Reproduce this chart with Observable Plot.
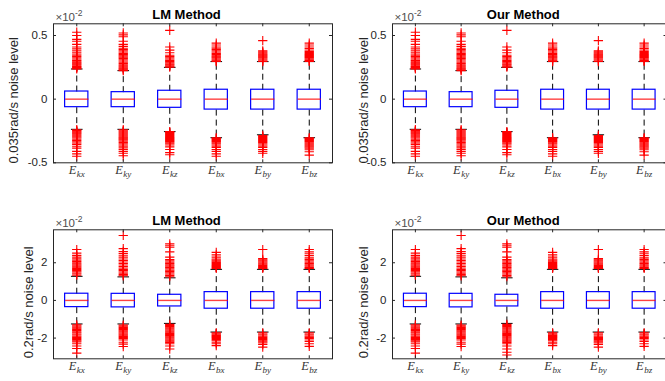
<!DOCTYPE html>
<html>
<head>
<meta charset="utf-8">
<script src="https://cdn.jsdelivr.net/npm/d3@7"></script>
<script src="https://cdn.jsdelivr.net/npm/@observablehq/plot@0.6"></script>
<style>
  html, body { margin: 0; padding: 0; background: #fff; }
  #chart { position: relative; width: 665px; height: 381px; overflow: hidden; background: #fff; }
  #chart svg { position: absolute; }
</style>
</head>
<body>
<div id="chart"></div>
<script>
// Error components (x tick labels)
const categories = ["Ekx", "Eky", "Ekz", "Ebx", "Eby", "Ebz"];
const methods = ["LM Method", "Our Method"];

// ---- 0.035 rad/s noise level, values ×10^-2 ----
const lowTicks = [-0.5, 0, 0.5];
const lowQ1 = [-0.063, -0.063, -0.068, -0.082, -0.082, -0.082];
const lowMed = [0, 0, 0, 0, 0, 0];
const lowQ3 = [0.060, 0.055, 0.066, 0.074, 0.074, 0.074];
const lowWhiskLo = [-0.237, -0.237, -0.255, -0.303, -0.280, -0.303];
const lowWhiskHi = [0.237, 0.224, 0.250, 0.295, 0.295, 0.295];

const lowUpper = [
  [0.526, 0.50, 0.47, 0.455, 0.43, 0.41, 0.395, 0.38, 0.368, 0.355, 0.345, 0.335, 0.325, 0.315, 0.305, 0.298, 0.29, 0.283, 0.276, 0.27, 0.263, 0.257, 0.25, 0.244, 0.238],
  [0.52, 0.505, 0.49, 0.455, 0.43, 0.415, 0.40, 0.39, 0.38, 0.37, 0.36, 0.35, 0.34, 0.33, 0.32, 0.31, 0.30, 0.29, 0.28, 0.27, 0.262, 0.254, 0.246, 0.238, 0.23, 0.224],
  [0.54, 0.41, 0.385, 0.365, 0.345, 0.335, 0.325, 0.315, 0.305, 0.295, 0.285, 0.275, 0.267, 0.259, 0.252],
  [0.44, 0.425, 0.41, 0.40, 0.39, 0.38, 0.37, 0.36, 0.35, 0.34, 0.332, 0.324, 0.316, 0.308, 0.301, 0.296],
  [0.46, 0.38, 0.372, 0.364, 0.356, 0.348, 0.34, 0.332, 0.324, 0.316, 0.308, 0.30, 0.296],
  [0.44, 0.425, 0.41, 0.398, 0.386, 0.375, 0.366, 0.358, 0.35, 0.342, 0.334, 0.326, 0.318, 0.31, 0.303, 0.297]
];
const lowLower = [
  [-0.24, -0.246, -0.252, -0.258, -0.265, -0.272, -0.28, -0.288, -0.296, -0.305, -0.315, -0.325, -0.335, -0.345, -0.355, -0.37, -0.385, -0.41, -0.43, -0.448],
  [-0.24, -0.248, -0.256, -0.264, -0.272, -0.28, -0.288, -0.296, -0.304, -0.312, -0.32, -0.33, -0.34, -0.35, -0.36, -0.37, -0.383, -0.395, -0.41, -0.425, -0.445],
  [-0.255, -0.262, -0.27, -0.278, -0.286, -0.294, -0.302, -0.31, -0.318, -0.326, -0.334, -0.342, -0.35, -0.36, -0.375, -0.395, -0.42, -0.437],
  [-0.303, -0.31, -0.318, -0.326, -0.334, -0.342, -0.35, -0.36, -0.37, -0.38, -0.395, -0.41, -0.43, -0.448],
  [-0.285, -0.293, -0.301, -0.309, -0.317, -0.325, -0.333, -0.341, -0.35, -0.36, -0.37, -0.38, -0.395, -0.41, -0.425],
  [-0.303, -0.31, -0.318, -0.326, -0.334, -0.342, -0.35, -0.358, -0.366, -0.375, -0.385, -0.398, -0.413, -0.44]
];

// ---- 0.2 rad/s noise level, values ×10^-2 ----
const highTicks = [-2, 0, 2];
const highQ1 = [-0.356, -0.37, -0.32, -0.44, -0.44, -0.44];
const highMed = [0, 0, 0, 0, 0, 0];
const highQ3 = [0.356, 0.35, 0.30, 0.44, 0.44, 0.44];
const highWhiskLo = [-1.25, -1.25, -1.22, -1.68, -1.68, -1.68];
const highWhiskHi = [1.28, 1.25, 1.20, 1.65, 1.65, 1.65];

const highUpper = [
  [2.7, 2.51, 2.39, 2.3, 2.21, 2.14, 2.07, 2.0, 1.94, 1.88, 1.82, 1.76, 1.7, 1.64, 1.58, 1.52, 1.46, 1.4, 1.34],
  [3.45, 2.75, 2.6, 2.5, 2.4, 2.3, 2.2, 2.12, 2.04, 1.96, 1.88, 1.8, 1.72, 1.65, 1.58, 1.51, 1.44, 1.37, 1.31],
  [3.0, 2.9, 2.82, 2.58, 2.3, 2.17, 2.1, 2.03, 1.96, 1.89, 1.82, 1.75, 1.68, 1.61, 1.54, 1.47, 1.4, 1.33, 1.26],
  [2.55, 2.42, 2.3, 2.2, 2.14, 2.08, 2.02, 1.96, 1.9, 1.85, 1.8, 1.75, 1.7],
  [2.7, 2.22, 2.16, 2.1, 2.04, 1.98, 1.92, 1.86, 1.8, 1.75, 1.7],
  [2.7, 2.58, 2.48, 2.38, 2.26, 2.18, 2.1, 2.03, 1.96, 1.89, 1.82, 1.75, 1.7]
];
const highLowerLM = [
  [-1.3, -1.36, -1.42, -1.48, -1.54, -1.6, -1.66, -1.72, -1.78, -1.84, -1.9, -1.96, -2.02, -2.08, -2.14, -2.2, -2.3, -2.42, -2.55, -2.8],
  [-1.31, -1.37, -1.43, -1.49, -1.55, -1.61, -1.67, -1.73, -1.79, -1.85, -1.91, -1.97, -2.03, -2.1, -2.22, -2.32, -2.45],
  [-1.27, -1.33, -1.39, -1.45, -1.51, -1.57, -1.63, -1.69, -1.75, -1.81, -1.87, -1.93, -1.99, -2.05, -2.11, -2.17, -2.23, -2.3, -2.42, -2.58],
  [-1.72, -1.77, -1.82, -1.87, -1.92, -1.97, -2.02, -2.08, -2.14, -2.22, -2.3, -2.4],
  [-1.72, -1.78, -1.84, -1.9, -1.96, -2.02, -2.08, -2.14, -2.2, -2.26, -2.34, -2.48],
  [-1.72, -1.78, -1.84, -1.9, -1.96, -2.02, -2.1, -2.18, -2.3, -2.44]
];
const highLowerOur = [
  [-1.3, -1.36, -1.42, -1.48, -1.54, -1.6, -1.66, -1.72, -1.78, -1.84, -1.9, -1.96, -2.02, -2.08, -2.14, -2.2, -2.3, -2.42, -2.55, -2.8],
  [-1.31, -1.37, -1.43, -1.49, -1.55, -1.61, -1.67, -1.73, -1.79, -1.85, -1.91, -1.97, -2.03, -2.1, -2.22, -2.32, -2.45],
  [-1.27, -1.33, -1.39, -1.45, -1.51, -1.57, -1.63, -1.69, -1.75, -1.81, -1.87, -1.93, -1.99, -2.05, -2.11, -2.17, -2.23, -2.3, -2.42, -2.58, -2.75, -2.9],
  [-1.72, -1.77, -1.82, -1.87, -1.92, -1.97, -2.02, -2.08, -2.14, -2.22, -2.3, -2.4],
  [-1.72, -1.78, -1.84, -1.9, -1.96, -2.02, -2.08, -2.14, -2.2, -2.26, -2.34, -2.48],
  [-1.72, -1.78, -1.84, -1.9, -1.96, -2.02, -2.1, -2.18, -2.3, -2.44]
];

const SANS = "'Liberation Sans', Arial, Helvetica, sans-serif";
const SERIF = "'Liberation Serif', 'DejaVu Serif', serif";
const AXIS = "#262626";
const NS = "http://www.w3.org/2000/svg";

function boxPanel(cfg) {
  const {title, ylabel, yDomain, yTicks, q1, med, q3, lo, hi, upper, lower,
         left, top, width, height, mL, mR, mT, mB, ylabelDx, ylabelDy} = cfg;
  const fw = width - mL - mR;
  const fh = height - mT - mB;
  const xs = categories.map((c, i) => i + 1);
  const boxes = categories.map((c, i) => ({c, x: i + 1, q1: q1[i], med: med[i], q3: q3[i], lo: lo[i], hi: hi[i]}));
  const outliers = categories.flatMap((c, i) => upper[i].concat(lower[i]).map(v => ({x: i + 1, v})));

  const svg = Plot.plot({
    width, height,
    marginLeft: mL, marginRight: mR, marginTop: mT, marginBottom: mB,
    style: {background: "transparent", fontFamily: SANS, overflow: "visible"},
    x: {type: "linear", domain: [0.5, 6.5], axis: null},
    y: {type: "linear", domain: yDomain, axis: null},
    marks: [
      // whiskers
      Plot.link(boxes, {x1: "x", x2: "x", y1: "q3", y2: "hi", stroke: "#000", strokeWidth: 1, strokeDasharray: "6,4"}),
      Plot.link(boxes, {x1: "x", x2: "x", y1: "q1", y2: "lo", stroke: "#000", strokeWidth: 1, strokeDasharray: "6,4"}),
      Plot.link(boxes, {x1: d => d.x - 0.125, x2: d => d.x + 0.125, y1: "hi", y2: "hi", stroke: "#000"}),
      Plot.link(boxes, {x1: d => d.x - 0.125, x2: d => d.x + 0.125, y1: "lo", y2: "lo", stroke: "#000"}),
      // boxes and medians
      Plot.rect(boxes, {x1: d => d.x - 0.25, x2: d => d.x + 0.25, y1: "q1", y2: "q3", fill: "none", stroke: "#0000ff", strokeWidth: 1.2}),
      Plot.link(boxes, {x1: d => d.x - 0.25, x2: d => d.x + 0.25, y1: "med", y2: "med", stroke: "#ff0000", strokeWidth: 1.4, strokeOpacity: 0.75}),
      // outliers
      Plot.dot(outliers, {x: "x", y: "v", symbol: "plus", r: 3.1, stroke: "#ff0000", strokeWidth: 1.1}),
      // axes box and inward ticks
      Plot.frame({stroke: AXIS, strokeWidth: 1}),
      Plot.tickY(yTicks, {y: d => d, insetRight: fw - 3, stroke: AXIS}),
      Plot.tickY(yTicks, {y: d => d, insetLeft: fw - 3, stroke: AXIS}),
      Plot.tickX(xs, {x: d => d, insetBottom: fh - 3, stroke: AXIS}),
      Plot.tickX(xs, {x: d => d, insetTop: fh - 3, stroke: AXIS}),
      // y tick labels
      Plot.text(yTicks, {y: d => d, text: d => String(d), frameAnchor: "left", dx: -6, textAnchor: "end",
                         fontSize: 11.5, fill: AXIS, fontFamily: SANS}),
      // x tick labels
      Plot.text(categories, {x: (d, i) => i + 1, text: d => d, frameAnchor: "bottom", dy: 11.5, textAnchor: "middle",
                             fontSize: 12.5, fill: "#333", fontFamily: SERIF, fontStyle: "italic"}),
      // exponent marker
      Plot.text(["×10-2"], {frameAnchor: "top-left", textAnchor: "start", lineAnchor: "bottom", dx: 2, dy: -2.8,
                            fontSize: 11.5, fill: "#4d4d4d", fontFamily: SANS}),
      // title
      Plot.text([title], {frameAnchor: "top", textAnchor: "middle", lineAnchor: "bottom", dx: -6.5, dy: -5,
                          fontSize: 13, fontWeight: "bold", fill: "#000", fontFamily: SANS}),
      // y label
      Plot.text([ylabel], {frameAnchor: "left", textAnchor: "middle", rotate: -90, dx: ylabelDx, dy: ylabelDy,
                           fontSize: 13, fill: AXIS, fontFamily: SANS})
    ]
  });

  // subscripts for component labels, superscript for exponent
  svg.querySelectorAll("text").forEach(t => {
    const s = t.textContent;
    const m = /^E([kb][xyz])$/.exec(s);
    if (m) {
      t.textContent = "E";
      const sub = document.createElementNS(NS, "tspan");
      sub.setAttribute("dy", "3");
      sub.setAttribute("dx", "0.5");
      sub.setAttribute("font-size", "9");
      sub.textContent = m[1];
      t.appendChild(sub);
    } else if (s === "×10-2") {
      t.textContent = "×10";
      const sup = document.createElementNS(NS, "tspan");
      sup.setAttribute("dy", "-5.5");
      sup.setAttribute("font-size", "8.5");
      sup.textContent = "-2";
      t.appendChild(sup);
    }
  });

  svg.style.left = left + "px";
  svg.style.top = top + "px";
  document.getElementById("chart").appendChild(svg);
}

const lowLabel = "0.035rad/s noise level";
const highLabel = "0.2rad/s noise level";

boxPanel({title: methods[0], ylabel: lowLabel, yDomain: [-0.5, 0.592], yTicks: lowTicks,
  q1: lowQ1, med: lowMed, q3: lowQ3, lo: lowWhiskLo, hi: lowWhiskHi, upper: lowUpper, lower: lowLower,
  left: 0, top: 0, width: 340, height: 190, mL: 53, mR: 8, mT: 23.3, mB: 27.7, ylabelDx: -40, ylabelDy: 7});
boxPanel({title: methods[1], ylabel: lowLabel, yDomain: [-0.5, 0.592], yTicks: lowTicks,
  q1: lowQ1, med: lowMed, q3: lowQ3, lo: lowWhiskLo, hi: lowWhiskHi, upper: lowUpper, lower: lowLower,
  left: 340, top: 0, width: 327, height: 190, mL: 52, mR: 0.5, mT: 23.3, mB: 27.7, ylabelDx: -29, ylabelDy: 7});
boxPanel({title: methods[0], ylabel: highLabel, yDomain: [-3.1, 3.75], yTicks: highTicks,
  q1: highQ1, med: highMed, q3: highQ3, lo: highWhiskLo, hi: highWhiskHi, upper: highUpper, lower: highLowerLM,
  left: 0, top: 190, width: 340, height: 191, mL: 53, mR: 8, mT: 39.3, mB: 22.7, ylabelDx: -25, ylabelDy: 8});
boxPanel({title: methods[1], ylabel: highLabel, yDomain: [-3.1, 3.75], yTicks: highTicks,
  q1: highQ1, med: highMed, q3: highQ3, lo: highWhiskLo, hi: highWhiskHi, upper: highUpper, lower: highLowerOur,
  left: 340, top: 190, width: 327, height: 191, mL: 52, mR: 0.5, mT: 39.3, mB: 22.7, ylabelDx: -29, ylabelDy: 8});
</script>
</body>
</html>
